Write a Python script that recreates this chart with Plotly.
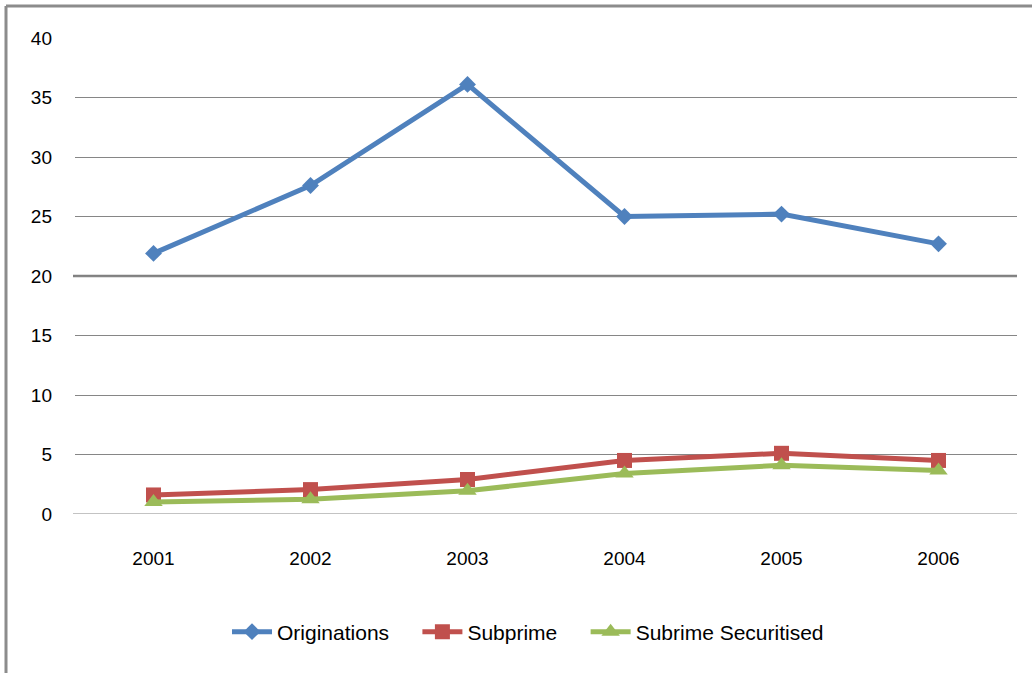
import plotly.graph_objects as go

years = ["2001", "2002", "2003", "2004", "2005", "2006"]
originations = [21.9, 27.6, 36.1, 25.0, 25.2, 22.7]
subprime = [1.6, 2.05, 2.9, 4.5, 5.1, 4.5]
securitised = [1.0, 1.25, 1.95, 3.4, 4.1, 3.65]
y_ticks = [0, 5, 10, 15, 20, 25, 30, 35, 40]
series_names = ["Originations", "Subprime", "Subrime Securitised"]

FONT = "Liberation Sans, Arial, sans-serif"
PAD = "\u00a0" * 4

fig = go.Figure()
fig.add_trace(go.Scatter(x=years, y=originations, name=series_names[0] + PAD, mode="lines+markers",
                         line=dict(color="#4F81BD", width=5),
                         marker=dict(symbol="diamond", size=13, color="#4F81BD")))
fig.add_trace(go.Scatter(x=years, y=subprime, name=series_names[1] + PAD, mode="lines+markers",
                         line=dict(color="#C0504D", width=5),
                         marker=dict(symbol="square", size=15, color="#C0504D")))
fig.add_trace(go.Scatter(x=years, y=securitised, name=series_names[2], mode="lines+markers",
                         line=dict(color="#9BBB59", width=5),
                         marker=dict(symbol="triangle-up", size=16, color="#9BBB59")))

L, R, T, B = 75, 15, 38, 159
W, H = 1032, 673
pw, ph = W - L - R, H - T - B

fig.update_layout(
    width=W, height=H,
    margin=dict(l=L, r=R, t=T, b=B),
    paper_bgcolor="white", plot_bgcolor="white",
    font=dict(family=FONT, size=19, color="#000000"),
    xaxis=dict(type="category", range=[-0.5, 5.5], showgrid=False, showline=False,
               ticks="", zeroline=False, ticklabelstandoff=31, tickfont=dict(size=19)),
    yaxis=dict(range=[0, 40], tickvals=y_ticks, showgrid=True, gridcolor="#868686",
               gridwidth=1, zeroline=False, showline=False, ticks="", ticklabelstandoff=22,
               tickfont=dict(size=19)),
    showlegend=True,
    legend=dict(orientation="h", x=(528 - L) / pw, xanchor="center", y=(514 - 632) / ph,
                yanchor="middle", font=dict(size=21), itemwidth=40, traceorder="normal"),
    shapes=[
        dict(type="line", xref="paper", yref="paper", x0=(6 - L) / pw, x1=(W + 10 - L) / pw,
             y0=1 + (T - 6) / ph, y1=1 + (T - 6) / ph, line=dict(color="#8C8C8C", width=3)),
        dict(type="line", xref="paper", yref="paper", x0=(6 - L) / pw, x1=(6 - L) / pw,
             y0=1 + (T - 6) / ph, y1=-(B + 10) / ph, line=dict(color="#8C8C8C", width=3)),
        dict(type="line", xref="paper", yref="y", x0=-2 / pw, x1=1, y0=0, y1=0,
             line=dict(color="#868686", width=1), layer="below"),
        dict(type="line", xref="paper", yref="y", x0=-2 / pw, x1=1, y0=20, y1=20,
             line=dict(color="#808080", width=2.5), layer="below"),
    ],
)

fig.write_html("out.html", config={"displayModeBar": False},
               post_script="document.body.style.margin='0';document.body.style.overflow='hidden';")
